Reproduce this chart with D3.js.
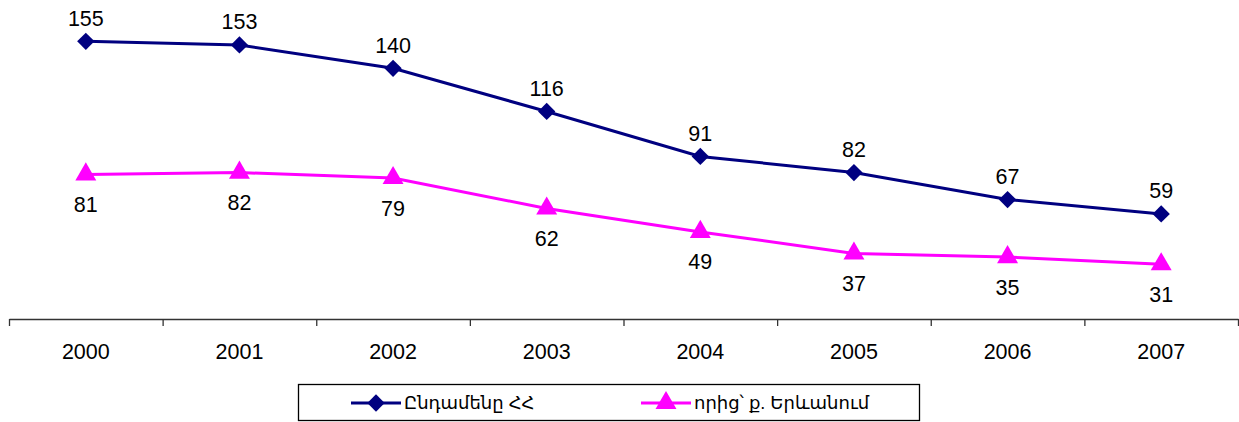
<!DOCTYPE html>
<html>
<head>
<meta charset="utf-8">
<script src="https://cdn.jsdelivr.net/npm/d3@7"></script>
<style>
  body { margin: 0; background: #fff; }
  text { font-family: "Liberation Sans", Arial, "DejaVu Sans", sans-serif; }
</style>
</head>
<body>
<div id="chart"></div>
<script>
// data
var years = ["2000", "2001", "2002", "2003", "2004", "2005", "2006", "2007"];
var total = [155, 153, 140, 116, 91, 82, 67, 59];
var yerevan = [81, 82, 79, 62, 49, 37, 35, 31];
var seriesNames = ["Ընդամենը ՀՀ", "որից՝ ք. Երևանում"];

var width = 1239, height = 422;
var left = 9, right = 1238, axisY = 320;

var svg = d3.select("#chart")
    .append("svg")
    .attr("width", width)
    .attr("height", height);

var x = d3.scaleBand()
    .domain(years)
    .range([left, right]);

var edge = d3.scaleLinear()
    .domain([0, years.length])
    .range([left, right]);

var y = d3.scaleLinear()
    .domain([0, 178])
    .range([axisY, 0]);

// axis with ticks between categories
svg.append("g")
    .attr("transform", "translate(0," + (axisY - 1) + ")")
    .call(d3.axisBottom(edge).ticks(years.length).tickFormat("").tickSize(7).tickSizeOuter(0))
    .call(g => g.selectAll("path, line").attr("stroke", "#333").attr("stroke-width", 1.3));

svg.append("g")
    .attr("transform", "translate(0," + (axisY - 1) + ")")
    .call(d3.axisBottom(x).tickSize(0).tickPadding(25))
    .call(g => g.select(".domain").remove())
    .call(g => g.selectAll("text")
        .attr("font-size", 21.5)
        .attr("fill", "#000")
        .style("font-family", "'Liberation Sans', Arial, sans-serif"));

var line = d3.line()
    .x(function(d, i) { return x(years[i]) + x.bandwidth() / 2; })
    .y(function(d) { return y(d); });

var diamond = d3.symbol().type(d3.symbolSquare).size(150);
var triangle = d3.symbol().type(d3.symbolTriangle).size(190);

function drawSeries(values, color, sym, labelDy) {
  svg.append("path")
      .datum(values)
      .attr("fill", "none")
      .attr("stroke", color)
      .attr("stroke-width", 3)
      .attr("d", line);

  svg.append("g").selectAll("path")
      .data(values)
      .join("path")
      .attr("d", sym)
      .attr("fill", color)
      .attr("transform", function(d, i) {
        var rot = sym === diamond ? " rotate(45)" : "";
        return "translate(" + (x(years[i]) + x.bandwidth() / 2) + "," + y(d) + ")" + rot;
      });

  svg.append("g").selectAll("text")
      .data(values)
      .join("text")
      .attr("x", function(d, i) { return x(years[i]) + x.bandwidth() / 2; })
      .attr("y", function(d) { return y(d) + labelDy; })
      .attr("dy", "0.35em")
      .attr("text-anchor", "middle")
      .attr("font-size", 21.5)
      .attr("fill", "#000")
      .text(function(d) { return d; });
}

drawSeries(total, "#000080", diamond, -23);
drawSeries(yerevan, "#FF00FF", triangle, 30);

// legend
var legend = svg.append("g");
legend.append("rect")
    .attr("x", 298.5)
    .attr("y", 384.5)
    .attr("width", 621)
    .attr("height", 36)
    .attr("fill", "#fff")
    .attr("stroke", "#000")
    .attr("stroke-width", 1.3);

var legendItems = [
  {name: seriesNames[0], color: "#000080", sym: diamond, x0: 351},
  {name: seriesNames[1], color: "#FF00FF", sym: triangle, x0: 641}
];

legendItems.forEach(function(it) {
  var cy = 403;
  legend.append("line")
      .attr("x1", it.x0).attr("x2", it.x0 + 50)
      .attr("y1", cy).attr("y2", cy)
      .attr("stroke", it.color)
      .attr("stroke-width", 3);
  legend.append("path")
      .attr("d", it.sym)
      .attr("fill", it.color)
      .attr("transform", "translate(" + (it.x0 + 25) + "," + cy + ")" + (it.sym === diamond ? " rotate(45)" : ""));
  legend.append("text")
      .attr("x", it.x0 + 53)
      .attr("y", cy)
      .attr("dy", "0.35em")
      .attr("font-size", 18)
      .attr("fill", "#000")
      .text(it.name);
});
</script>
</body>
</html>
